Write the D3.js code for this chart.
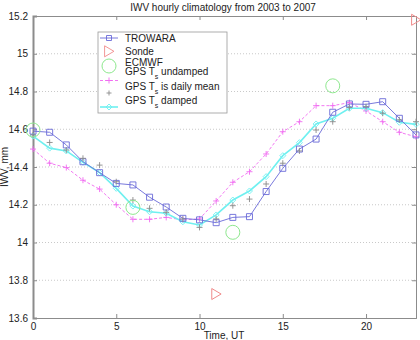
<!DOCTYPE html>
<html>
<head>
<meta charset="utf-8">
<script src="https://cdn.jsdelivr.net/npm/d3@7"></script>
<style>
  body { margin: 0; background: #fff; }
  text { font-family: 'Liberation Sans', Arial, sans-serif; fill: #222; }
</style>
</head>
<body>
<svg width="420" height="340"></svg>
<script>
const hours = d3.range(0, 24);
const trowara = [14.59, 14.584, 14.517, 14.428, 14.37, 14.313, 14.305, 14.24, 14.188, 14.128, 14.12, 14.105,
  14.133, 14.137, 14.27, 14.393, 14.495, 14.548, 14.69, 14.734, 14.732, 14.746, 14.658, 14.57];
const gpsUndamped = [14.495, 14.42, 14.397, 14.33, 14.283, 14.2, 14.123, 14.123, 14.133, 14.12, 14.125, 14.22,
  14.319, 14.375, 14.469, 14.587, 14.64, 14.725, 14.725, 14.741, 14.697, 14.64, 14.584, 14.56];
const gpsDailyMean = [14.57, 14.53, 14.49, 14.446, 14.41, 14.322, 14.225, 14.181, 14.16, 14.125, 14.08, 14.125,
  14.195, 14.23, 14.31, 14.42, 14.485, 14.596, 14.64, 14.715, 14.72, 14.685, 14.65, 14.64];
const gpsDamped = [14.564, 14.5, 14.485, 14.425, 14.37, 14.287, 14.193, 14.163, 14.155, 14.11, 14.093, 14.146,
  14.225, 14.273, 14.349, 14.46, 14.529, 14.628, 14.658, 14.711, 14.711, 14.688, 14.637, 14.626];
const sondeHours = [11, 23];
const sondeValues = [13.727, 15.18];
const ecmwfHours = [0, 6, 12, 18];
const ecmwfValues = [14.596, 14.186, 14.054, 14.83];
const xTicks = [0, 5, 10, 15, 20];
const yTicks = [13.6, 13.8, 14, 14.2, 14.4, 14.6, 14.8, 15, 15.2];

const svg = d3.select('svg');
const margin = { top: 16, bottom: 22, left: 33, right: 4 };
const width = +svg.attr('width');
const height = +svg.attr('height');

const xScale = d3.scaleLinear().domain([0, 23]).range([margin.left, width - margin.right]);
const yScale = d3.scaleLinear().domain([13.6, 15.2]).range([height - margin.bottom, margin.top]);

const axisColor = '#8c8c8c';

// dotted horizontal grid
svg.append('g')
  .selectAll('line')
  .data(yTicks.slice(1, -1))
  .join('line')
  .attr('x1', margin.left).attr('x2', width - margin.right)
  .attr('y1', d => yScale(d)).attr('y2', d => yScale(d))
  .attr('stroke', '#bbb')
  .attr('stroke-width', 0.8)
  .attr('stroke-dasharray', '1,2');

const xAxis = d3.axisBottom(xScale).tickValues(xTicks).tickSize(-4).tickPadding(5).tickFormat(d3.format('d'));
const xAxisTop = d3.axisTop(xScale).tickValues(xTicks).tickSize(-4).tickFormat('');
const yAxis = d3.axisLeft(yScale).tickValues(yTicks).tickSize(-4).tickPadding(5).tickFormat(d => d);
const yAxisRight = d3.axisRight(yScale).tickValues(yTicks).tickSize(-4).tickFormat('');

const styleAxis = g => {
  g.selectAll('.domain').attr('stroke', axisColor);
  g.selectAll('.tick line').attr('stroke', axisColor);
  g.selectAll('.tick text').attr('font-size', 10).attr('fill', '#222')
    .attr('font-family', "'Liberation Sans', Arial, sans-serif");
};

svg.append('g').attr('transform', `translate(0, ${height - margin.bottom})`).call(xAxis).call(styleAxis);
svg.append('g').attr('transform', `translate(0, ${margin.top})`).call(xAxisTop).call(styleAxis);
svg.append('g').attr('transform', `translate(${margin.left}, 0)`).call(yAxis).call(styleAxis)
  .select('.domain').attr('stroke-width', 2);
svg.append('g').attr('transform', `translate(${width - margin.right}, 0)`).call(yAxisRight).call(styleAxis);

// title and labels
svg.append('text').attr('x', 223).attr('y', 11).attr('text-anchor', 'middle').attr('font-size', 10)
  .text('IWV hourly climatology from 2003 to 2007');
svg.append('text').attr('x', 224).attr('y', 339).attr('text-anchor', 'middle').attr('font-size', 10)
  .text('Time, UT');
svg.append('text').attr('transform', 'translate(8, 167) rotate(-90)').attr('text-anchor', 'middle')
  .attr('font-size', 10).text('IWV, mm');

// symbol helpers
const plusPath = s => `M${-s},0H${s}M0,${-s}V${s}`;
const squarePath = s => `M${-s},${-s}H${s}V${s}H${-s}Z`;
const diamondPath = s => `M0,${-s}L${s},0L0,${s}L${-s},0Z`;
const triRightPath = s => `M${-s * 0.8},${-s}L${s * 0.9},0L${-s * 0.8},${s}Z`;

const series = [
  { name: 'undamped', values: gpsUndamped, color: '#f06af0', dash: '3,2', width: 0.9, marker: plusPath(3) },
  { name: 'damped', values: gpsDamped, color: '#6ff0f0', dash: null, width: 1.6, marker: diamondPath(3) },
  { name: 'trowara', values: trowara, color: '#6a6ad8', dash: null, width: 0.9, marker: squarePath(3) }
];

const line = d3.line().x((d, i) => xScale(hours[i])).y(d => yScale(d));

series.forEach(s => {
  svg.append('path')
    .attr('d', line(s.values))
    .attr('fill', 'none')
    .attr('stroke', s.color)
    .attr('stroke-width', s.width)
    .attr('stroke-dasharray', s.dash);
  svg.append('g').selectAll('path')
    .data(s.values)
    .join('path')
    .attr('transform', (d, i) => `translate(${xScale(hours[i])}, ${yScale(d)})`)
    .attr('d', s.marker)
    .attr('fill', 'none')
    .attr('stroke', s.color)
    .attr('stroke-width', 0.9);
});

// GPS daily mean: markers only
svg.append('g').selectAll('path')
  .data(gpsDailyMean)
  .join('path')
  .attr('transform', (d, i) => `translate(${xScale(hours[i])}, ${yScale(d)})`)
  .attr('d', plusPath(3))
  .attr('stroke', '#8a8a8a')
  .attr('stroke-width', 0.9);

// ECMWF circles
svg.append('g').selectAll('circle')
  .data(ecmwfValues)
  .join('circle')
  .attr('cx', (d, i) => xScale(ecmwfHours[i]))
  .attr('cy', d => yScale(d))
  .attr('r', 7)
  .attr('fill', 'none')
  .attr('stroke', '#8ee88e')
  .attr('stroke-width', 1);

// Sonde triangles
svg.append('g').selectAll('path')
  .data(sondeValues)
  .join('path')
  .attr('transform', (d, i) => `translate(${xScale(sondeHours[i])}, ${yScale(d)})`)
  .attr('d', triRightPath(5.5))
  .attr('fill', 'none')
  .attr('stroke', '#f08a8a')
  .attr('stroke-width', 1);

// legend
const legend = svg.append('g');
legend.append('rect')
  .attr('x', 98).attr('y', 32).attr('width', 129).attr('height', 81)
  .attr('fill', '#fff').attr('stroke', '#999').attr('stroke-width', 0.8);

const legendItems = [
  { label: ['TROWARA'], symY: 38, textY: 38, color: '#6a6ad8', line: true, dash: null, width: 0.9, marker: squarePath(2.5) },
  { label: ['Sonde'], symY: 51.3, textY: 51, color: '#f08a8a', line: false, marker: triRightPath(5.5) },
  { label: ['ECMWF'], symY: 66, textY: 62, color: '#8ee88e', line: false, circle: true },
  { label: ['GPS T', 's', ' undamped'], symY: 80.5, textY: 71.5, color: '#f06af0', line: true, dash: '3,2', width: 0.9, marker: plusPath(3) },
  { label: ['GPS T', 's', ' is daily mean'], symY: 93, textY: 86, color: '#8a8a8a', line: false, marker: plusPath(2.5) },
  { label: ['GPS T', 's', ' damped'], symY: 107, textY: 100, color: '#6ff0f0', line: true, dash: null, width: 1.6, marker: diamondPath(3) }
];

legendItems.forEach(item => {
  if (item.line) {
    legend.append('line')
      .attr('x1', 100).attr('x2', 118).attr('y1', item.symY).attr('y2', item.symY)
      .attr('stroke', item.color).attr('stroke-width', item.width).attr('stroke-dasharray', item.dash);
  }
  if (item.circle) {
    legend.append('circle').attr('cx', 109).attr('cy', item.symY).attr('r', 7)
      .attr('fill', 'none').attr('stroke', item.color);
  } else {
    legend.append('path').attr('transform', `translate(109, ${item.symY})`).attr('d', item.marker)
      .attr('fill', 'none').attr('stroke', item.color).attr('stroke-width', 0.9);
  }
  const t = legend.append('text').attr('x', 125).attr('y', item.textY).attr('dy', '0.35em').attr('font-size', 10);
  t.append('tspan').text(item.label[0]);
  if (item.label.length > 1) {
    t.append('tspan').attr('dy', 4).attr('font-size', 7).text(item.label[1]);
    t.append('tspan').attr('dy', -4).text(item.label[2]);
  }
});
</script>
</body>
</html>
